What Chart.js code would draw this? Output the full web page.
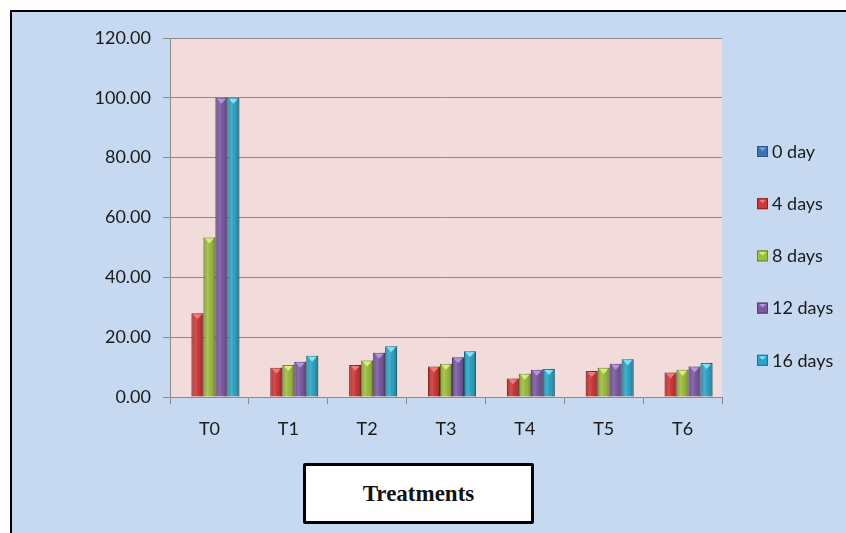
<!DOCTYPE html>
<html>
<head>
<meta charset="utf-8">
<script src="https://cdn.jsdelivr.net/npm/chart.js@4.4.1/dist/chart.umd.min.js"></script>
<style>
    html, body { margin: 0; padding: 0; background: #ffffff; overflow: hidden; }
    #wrap { position: relative; width: 846px; height: 533px; }
    #frame {
        position: absolute; left: 10px; top: 10px; width: 860px; height: 560px;
        background: #c6d9f1; border: 2px solid #000;
    }
    #chart { position: absolute; left: 0; top: 0; }
    #xtitle {
        position: absolute; left: 303px; top: 463px; width: 225px; height: 55px;
        background: #fff; border: 3px solid #000; border-radius: 2px;
        font: bold 23px "Liberation Serif", "DejaVu Serif", serif; color: #111;
        display: flex; align-items: center; justify-content: center;
    }
</style>
</head>
<body>
<div id="wrap">
    <div id="frame"></div>
    <canvas id="chart" width="846" height="533"></canvas>
    <div id="xtitle">Treatments</div>
</div>
<script>
// Data
const categories = ['T0', 'T1', 'T2', 'T3', 'T4', 'T5', 'T6'];
const seriesNames = ['0 day', '4 days', '8 days', '12 days', '16 days'];
const day0 = [0, 0, 0, 0, 0, 0, 0];
const day4 = [28.0, 9.8, 10.7, 10.2, 6.2, 8.7, 8.2];
const day8 = [53.3, 10.7, 12.2, 11.1, 7.8, 9.8, 9.1];
const day12 = [100.0, 11.8, 14.8, 13.3, 9.1, 11.1, 10.2];
const day16 = [100.0, 13.8, 17.0, 15.3, 9.4, 12.6, 11.4];
const yTicks = [0, 20, 40, 60, 80, 100, 120];

const fills = ['#3b73b9', '#cf3636', '#9cbf3d', '#7a5aa2', '#2ba6c6'];
const edges = ['#2b5690', '#8e2222', '#6d8a2a', '#553d77', '#1d7590'];
const tops = ['#7fa8e0', '#f07a7a', '#d6f07a', '#b596dc', '#7fe4f8'];

// plot background + bevel look on the bars
const decorPlugin = {
    id: 'decor',
    beforeDraw(chart) {
        const { ctx, chartArea: a } = chart;
        ctx.save();
        ctx.fillStyle = '#f2dcdb';
        ctx.fillRect(a.left, a.top, a.right - a.left, a.bottom - a.top);
        ctx.restore();
    },
    afterDatasetsDraw(chart) {
        const ctx = chart.ctx;
        chart.data.datasets.forEach((ds, i) => {
            const meta = chart.getDatasetMeta(i);
            meta.data.forEach(bar => {
                const h = bar.base - bar.y;
                if (h < 1) return;
                const l = bar.x - bar.width / 2, r = bar.x + bar.width / 2;
                ctx.save();
                const g = ctx.createLinearGradient(l, 0, r, 0);
                g.addColorStop(0, 'rgba(0,0,0,0.18)');
                g.addColorStop(0.35, 'rgba(255,255,255,0.12)');
                g.addColorStop(0.7, 'rgba(0,0,0,0.05)');
                g.addColorStop(1, 'rgba(0,0,0,0.28)');
                ctx.fillStyle = g;
                ctx.fillRect(l, bar.y, r - l, h);
                // top triangle highlight
                ctx.fillStyle = tops[i];
                ctx.beginPath();
                ctx.moveTo(l + 1.5, bar.y + 1);
                ctx.lineTo(r - 1.5, bar.y + 1);
                ctx.lineTo(bar.x, bar.y + Math.min(6, h - 1));
                ctx.closePath();
                ctx.fill();
                ctx.restore();
            });
        });
    },
    afterDraw(chart) {
        // legend on the right
        const { ctx, chartArea: a } = chart;
        ctx.save();
        ctx.font = '18px Lato, "Open Sans", sans-serif';
        ctx.textBaseline = 'middle';
        chart.data.datasets.forEach((ds, i) => {
            const x = a.right + 35;
            const y = a.top + 113 + i * 52.2;
            ctx.fillStyle = fills[i];
            ctx.fillRect(x, y - 5, 11, 11);
            ctx.strokeStyle = edges[i];
            ctx.lineWidth = 1;
            ctx.strokeRect(x + 0.5, y - 4.5, 10, 10);
            ctx.fillStyle = tops[i];
            ctx.beginPath();
            ctx.moveTo(x + 2, y - 3.5);
            ctx.lineTo(x + 9, y - 3.5);
            ctx.lineTo(x + 5.5, y);
            ctx.closePath();
            ctx.fill();
            ctx.fillStyle = '#1a1a1a';
            ctx.fillText(ds.label, x + 15, y + 1);
        });
        ctx.restore();
    }
};

const seriesData = [day0, day4, day8, day12, day16];

const datasets = seriesNames.map((name, i) => ({
    label: name,
    data: seriesData[i],
    backgroundColor: fills[i],
    borderColor: edges[i],
    borderWidth: i === 0 ? 0 : 1,
    categoryPercentage: 0.76,
    barPercentage: 1.0
}));

new Chart(document.getElementById('chart').getContext('2d'), {
    type: 'bar',
    data: { labels: categories, datasets: datasets },
    plugins: [decorPlugin],
    options: {
        responsive: false,
        animation: false,
        layout: { padding: { top: 38, right: 124, bottom: 0, left: 0 } },
        plugins: {
            legend: { display: false },
            tooltip: { enabled: false }
        },
        scales: {
            x: {
                afterFit: s => { s.height = 136; },
                grid: {
                    offset: true,
                    drawOnChartArea: false,
                    drawTicks: true,
                    tickLength: 7,
                    color: '#8a8a8a'
                },
                border: { color: '#8a8a8a', width: 1 },
                ticks: {
                    padding: 14,
                    color: '#1a1a1a',
                    font: { family: 'Lato, "Open Sans", sans-serif', size: 18 }
                }
            },
            y: {
                min: 0,
                max: 120,
                afterFit: s => { s.width = 170; },
                afterBuildTicks: s => { s.ticks = yTicks.map(v => ({ value: v })); },
                grid: {
                    color: '#8a8a8a',
                    drawTicks: true,
                    tickLength: 7
                },
                border: { color: '#8a8a8a', width: 1 },
                ticks: {
                    padding: 12,
                    color: '#1a1a1a',
                    font: { family: 'Lato, "Open Sans", sans-serif', size: 18 },
                    callback: v => v.toFixed(2)
                }
            }
        }
    }
});
</script>
</body>
</html>
